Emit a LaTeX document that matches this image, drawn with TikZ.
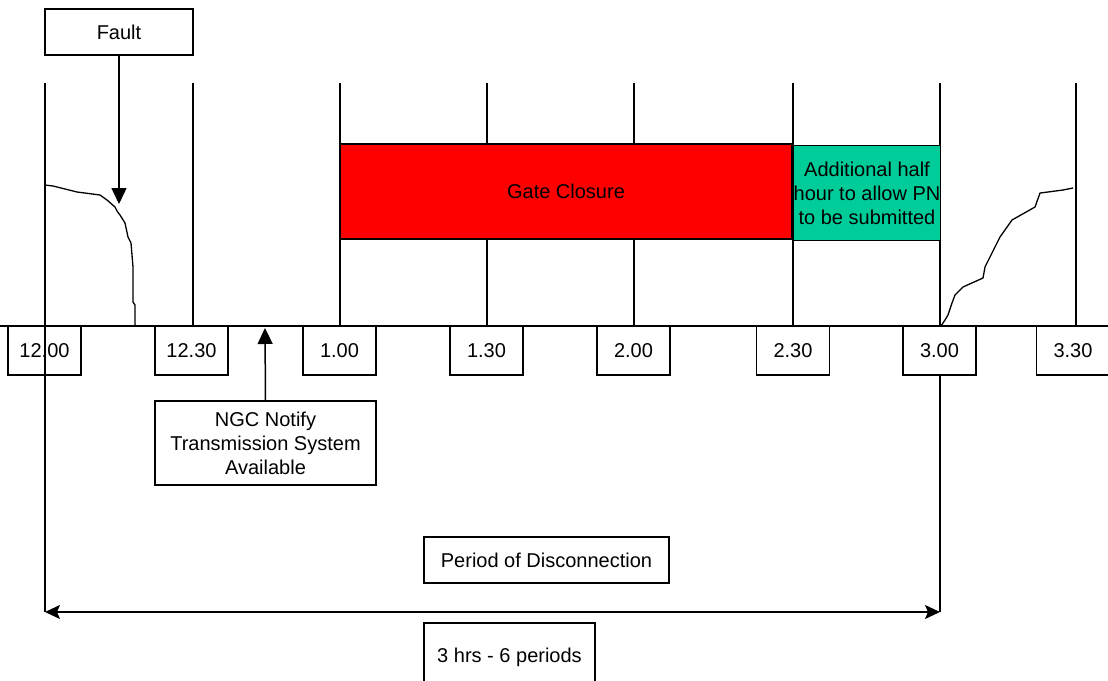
\documentclass[tikz,border=0pt]{standalone}
\usepackage{fontspec}
\setmainfont{Liberation Sans}
\usetikzlibrary{arrows.meta}
\definecolor{gcred}{RGB}{255,0,0}
\definecolor{pngreen}{RGB}{0,204,153}
\begin{document}
\begin{tikzpicture}[x=1pt,y=-1pt,
  every node/.style={font=\fontsize{20}{24}\selectfont, inner sep=0pt, outer sep=0pt},
  ln/.style={line width=1.5pt, black},
  tbox/.style={draw, line width=1.5pt, fill=white, minimum width=73pt, minimum height=49pt},
  lbox/.style={draw, line width=1.5pt, fill=white, align=center},
  curve/.style={line width=1.3pt, line join=round},
  bigtip/.style={-{Triangle[length=16pt,width=15pt]}},
  smalltip/.style={{Stealth[length=15pt,width=14pt,inset=3pt]}-{Stealth[length=15pt,width=14pt,inset=3pt]}}
]
\useasboundingbox (0,0) rectangle (1108,680);

% top and axis coordinates of the vertical grid lines
\foreach \n/\x in {a/45,b/193,c/340,d/487,e/634,f/793,g/940,h/1076}{
  \coordinate (top\n) at (\x,83);
  \coordinate (ax\n) at (\x,326);
}
\coordinate (lowa) at (45,612);
\coordinate (lowg) at (940,612);

% vertical lines
\foreach \n in {b,c,d,e,f,h}{ \draw[ln] (top\n) -- (ax\n); }
\draw[ln] (topg) -- (lowg);

% gate closure and additional half hour
\node[draw, line width=1.5pt, fill=gcred, minimum width=452pt, minimum height=95pt] (gate) at (566,191.5) {Gate Closure};
\node[draw, line width=1.5pt, fill=pngreen, minimum width=146pt, minimum height=95pt, align=center] (half) at (867,193) {Additional half\\hour to allow PN\\to be submitted};

% axis
\coordinate (axl) at (0,326);
\coordinate (axr) at (1108,326);
\draw[ln] (axl) -- (axr);

% time boxes
\node[tbox] (t1200) at (44.5,350.5) {12.00};
\node[tbox] (t1230) at (191.5,350.5) {12.30};
\node[tbox] (t100) at (339.5,350.5) {1.00};
\node[tbox] (t130) at (486.5,350.5) {1.30};
\node[tbox] (t200) at (633.5,350.5) {2.00};
\node[tbox] (t230) at (793,350.5) {2.30};
\node[tbox] (t300) at (939.5,350.5) {3.00};
\node[tbox] (t330) at (1073,350.5) {3.30};

% line at 12.00 drawn over its box
\draw[ln] (topa) -- (lowa);

% fault
\node[lbox, minimum width=148pt, minimum height=46pt] (fault) at (119,32) {Fault};
\coordinate (faulttip) at (119,204);
\draw[ln, bigtip] (fault.south) -- (faulttip);

% NGC notify
\node[lbox, minimum width=221pt, minimum height=84pt] (ngc) at (265.5,443) {NGC Notify\\Transmission System\\Available};
\coordinate (ngctip) at (265,328);
\draw[ln, bigtip] (ngc.north) -- (ngctip);

% fault decay curve
\draw[curve] (45,185) -- (53,186) -- (77,192) -- (100,195) -- (107,200) -- (115,207) -- (117,211) -- (120,215) -- (125,223) -- (128,237) -- (131,243) -- (133,267) -- (133,302) -- (135,305) -- (135,326);

% recovery curve
\draw[curve] (941,326) -- (945,320) -- (948,315) -- (952,303) -- (955,295) -- (963,287) -- (983,278) -- (985,267) -- (990,257) -- (1000,237) -- (1012,220) -- (1035,207) -- (1040,193) -- (1048,192) -- (1063,190) -- (1073,188);

% period of disconnection
\node[lbox, minimum width=245pt, minimum height=46pt] (period) at (546.5,560) {Period of Disconnection};
\draw[ln, smalltip] (lowa) -- (lowg);
\node[lbox, minimum width=171pt, minimum height=68pt] (hrs) at (509.5,657) {3 hrs - 6 periods};
\end{tikzpicture}
\end{document}
